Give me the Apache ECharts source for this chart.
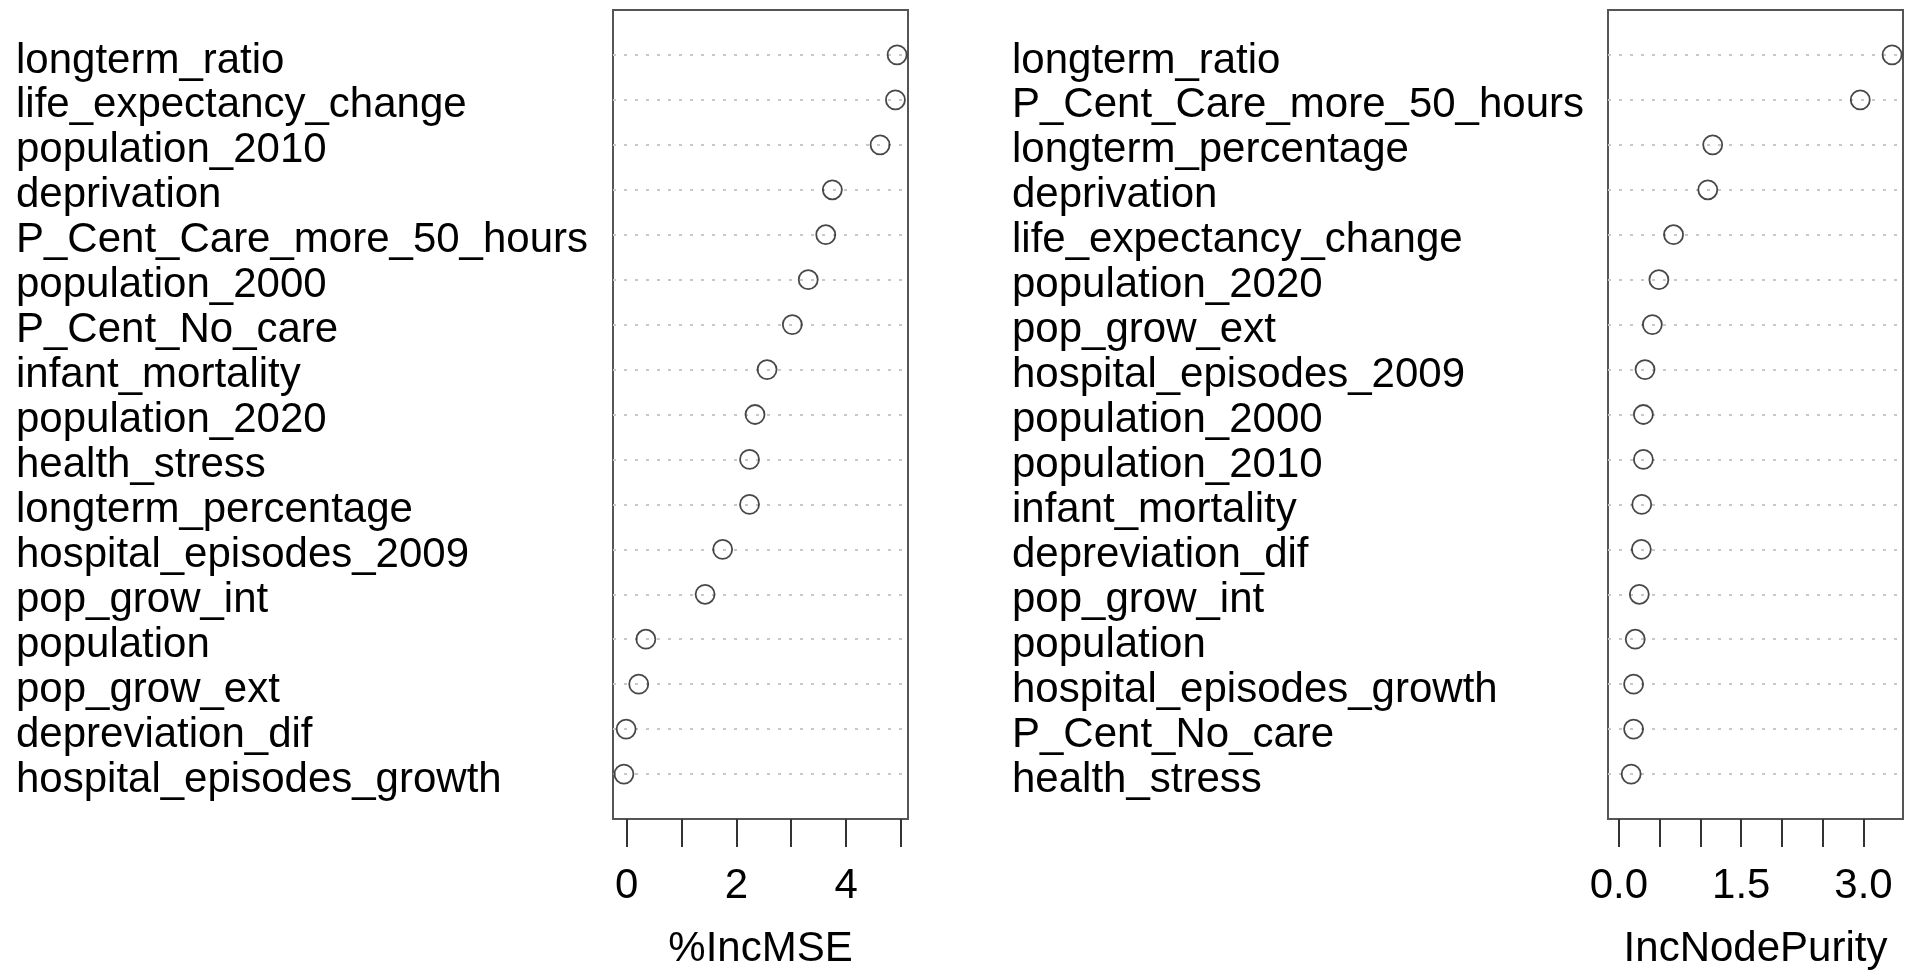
<!DOCTYPE html>
<html>
<head>
<meta charset="utf-8">
<script src="https://cdn.jsdelivr.net/npm/echarts@6/dist/echarts.min.js"></script>
<style>
  html, body { margin: 0; padding: 0; background: #fff; }
  #main { width: 1910px; height: 975px; }
</style>
</head>
<body>
<div id="main"></div>
<script>
  // variable names, top to bottom as in the plot
  const mseNames = ['longterm_ratio', 'life_expectancy_change', 'population_2010', 'deprivation',
    'P_Cent_Care_more_50_hours', 'population_2000', 'P_Cent_No_care', 'infant_mortality',
    'population_2020', 'health_stress', 'longterm_percentage', 'hospital_episodes_2009',
    'pop_grow_int', 'population', 'pop_grow_ext', 'depreviation_dif', 'hospital_episodes_growth'];
  const mseValues = [4.93, 4.90, 4.62, 3.75, 3.63, 3.31, 3.02, 2.56, 2.34, 2.24, 2.24, 1.75,
    1.43, 0.35, 0.22, -0.01, -0.05];

  const purityNames = ['longterm_ratio', 'P_Cent_Care_more_50_hours', 'longterm_percentage',
    'deprivation', 'life_expectancy_change', 'population_2020', 'pop_grow_ext',
    'hospital_episodes_2009', 'population_2000', 'population_2010', 'infant_mortality',
    'depreviation_dif', 'pop_grow_int', 'population', 'hospital_episodes_growth',
    'P_Cent_No_care', 'health_stress'];
  const purityValues = [3.35, 2.96, 1.15, 1.09, 0.67, 0.49, 0.41, 0.32, 0.30, 0.30, 0.28,
    0.275, 0.25, 0.20, 0.18, 0.18, 0.15];

  const mseTicks = [0, 1, 2, 3, 4, 5];
  const mseTickLabels = [0, 2, 4];
  const purityTicks = [0, 0.5, 1.0, 1.5, 2.0, 2.5, 3.0];
  const purityTickLabels = [0, 1.5, 3.0];

  const FONT = '"Liberation Sans", Arial, Helvetica, sans-serif';
  const n = mseNames.length;

  // R style range: data range padded by 4% each side
  function rRange(lo, hi) {
    const r = hi - lo;
    return [lo - 0.04 * r, hi + 0.04 * r];
  }
  const mseRange = rRange(Math.min(...mseValues), Math.max(...mseValues));
  const purityRange = rRange(0, Math.max(...purityValues));

  function toPoints(vals) {
    return vals.map((v, i) => [v, n - i]);
  }

  // dotted guide lines only on the rows, not on the box edges
  const guideColors = [];
  for (let i = 0; i <= n + 1; i++) {
    guideColors.push(i === 0 || i === n + 1 ? 'rgba(0,0,0,0)' : '#c8c8c8');
  }

  function xAxisFor(idx, range, ticks, labels, title, fmt) {
    return {
      gridIndex: idx,
      type: 'value',
      min: range[0],
      max: range[1],
      position: 'bottom',
      axisLine: { show: false },
      splitLine: { show: false },
      axisTick: {
        show: true,
        customValues: ticks,
        length: 28,
        lineStyle: { color: '#333', width: 2 }
      },
      axisLabel: {
        customValues: labels,
        margin: 46,
        color: '#000',
        fontSize: 42,
        fontFamily: FONT,
        formatter: fmt
      },
      name: title,
      nameLocation: 'middle',
      nameGap: 109,
      nameTextStyle: { color: '#000', fontSize: 42, fontFamily: FONT }
    };
  }

  function yAxisFor(idx, names, labelLeft) {
    return {
      gridIndex: idx,
      type: 'value',
      min: 0,
      max: n + 1,
      interval: 1,
      axisLine: { show: false },
      axisTick: { show: false },
      splitLine: {
        show: true,
        lineStyle: { color: guideColors, type: [3, 8], width: 2 }
      },
      axisLabel: {
        margin: labelLeft,
        align: 'left',
        verticalAlign: 'top',
        lineHeight: 12,
        color: '#000',
        fontSize: 42,
        fontFamily: FONT,
        formatter: v => (v >= 1 && v <= n) ? names[n - v] : ''
      }
    };
  }

  const chart = echarts.init(document.getElementById('main'));

  const option = {
    backgroundColor: '#fff',
    animation: false,
    grid: [
      { left: 613, top: 10, width: 295, height: 814, show: true, borderColor: '#555', borderWidth: 2, backgroundColor: 'transparent' },
      { left: 1608, top: 10, width: 295, height: 814, show: true, borderColor: '#555', borderWidth: 2, backgroundColor: 'transparent' }
    ],
    xAxis: [
      xAxisFor(0, mseRange, mseTicks, mseTickLabels, '%IncMSE', v => String(Math.round(v))),
      xAxisFor(1, purityRange, purityTicks, purityTickLabels, 'IncNodePurity', v => Number(v).toFixed(1))
    ],
    yAxis: [
      yAxisFor(0, mseNames, 597),
      yAxisFor(1, purityNames, 596)
    ],
    series: [
      {
        type: 'scatter',
        xAxisIndex: 0,
        yAxisIndex: 0,
        symbol: 'circle',
        symbolSize: 19,
        itemStyle: { color: 'rgba(0,0,0,0)', borderColor: '#1a1a1a', borderWidth: 1.8 },
        data: toPoints(mseValues)
      },
      {
        type: 'scatter',
        xAxisIndex: 1,
        yAxisIndex: 1,
        symbol: 'circle',
        symbolSize: 19,
        itemStyle: { color: 'rgba(0,0,0,0)', borderColor: '#1a1a1a', borderWidth: 1.8 },
        data: toPoints(purityValues)
      }
    ]
  };

  chart.setOption(option);
</script>
</body>
</html>
